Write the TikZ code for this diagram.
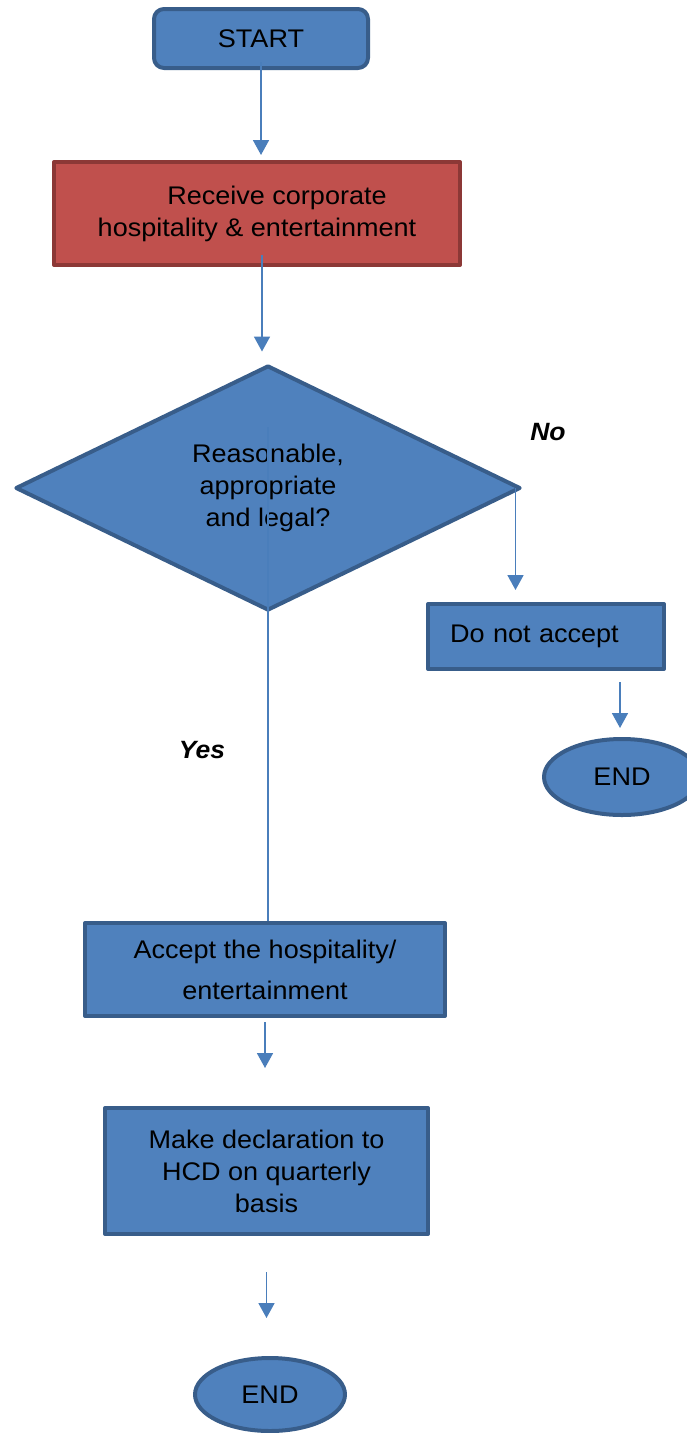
\documentclass[tikz,border=0pt]{standalone}
\usepackage{fontspec}
\setmainfont{Liberation Sans}[FakeStretch=1.06]
\usetikzlibrary{shapes.geometric,arrows.meta}
\definecolor{boxfill}{HTML}{4F81BD}
\definecolor{boxline}{HTML}{385D8A}
\definecolor{redfill}{HTML}{C0504D}
\definecolor{redline}{HTML}{8C3836}
\definecolor{arrcol}{HTML}{4A7EBB}
\tikzset{
  base/.style={draw=boxline, fill=boxfill, line width=4pt, inner sep=0pt, text=black,
    font=\fontsize{25.5}{32}\selectfont, align=center, line join=round},
  procbox/.style={base, rectangle},
  startbox/.style={base, rectangle, rounded corners=10pt},
  redbox/.style={base, rectangle, draw=redline, fill=redfill},
  decision/.style={base, diamond, aspect=2},
  endnode/.style={base, ellipse},
  arr/.style={draw=arrcol, line width=1.8pt, -{Triangle[width=16pt,length=15pt]}},
  conn/.style={draw=arrcol, line width=1.8pt},
  lbl/.style={font=\fontsize{25}{28}\selectfont\bfseries\itshape, inner sep=0pt}
}
\begin{document}
\begin{tikzpicture}[x=1pt,y=-1pt]
\useasboundingbox (0,0) rectangle (686,1433);
\node[startbox, minimum width=214pt, minimum height=59pt] (start) at (261,38.5) {START};
\node[redbox, minimum width=406pt, minimum height=103pt] (recv) at (257,213.5)
  {\hspace*{40pt}Receive corporate\\hospitality \& entertainment};
\node[decision, minimum width=505pt, minimum height=245pt] (dec) at (268,488)
  {Reasonable,\\appropriate\\and legal?};
\node[procbox, minimum width=236pt, minimum height=65pt, text width=192pt, align=left, inner xsep=22pt] (dna) at (546,636.5) {Do not accept};
\node[endnode, minimum width=156pt, minimum height=76pt] (end1) at (622,777) {END};
\node[procbox, minimum width=360pt, minimum height=93pt] (acc) at (265,969.5)
  {Accept the hospitality/\\[9pt]entertainment};
\node[procbox, minimum width=323pt, minimum height=126pt] (make) at (266.5,1171)
  {Make declaration to\\HCD on quarterly\\basis};
\node[endnode, minimum width=150pt, minimum height=73pt] (end2) at (270,1394.5) {END};

\node[lbl] (no) at (548,432) {No};
\node[lbl] (yes) at (202,750) {Yes};

\draw[arr, shorten <=-8pt, shorten >=5pt] (start.south) -- (start.south |- recv.north);
\draw[arr, shorten <=-12pt, shorten >=12pt] ([xshift=5pt]recv.south) -- ([xshift=5pt]recv.south |- dec.north);
\draw[arr, shorten >=12pt] ([xshift=-7pt]dec.east) -- ([xshift=-7pt]dec.east |- dna.north);
\draw[arr, shorten <=11pt, shorten >=9pt] ([xshift=-2pt]dna.south -| end1.north) -- ([xshift=-2pt]end1.north);
\draw[conn] ([yshift=61pt]dec.center) -- (dec.center |- acc.north);
\draw[arr, shorten <=4pt, shorten >=38pt] (acc.south) -- (acc.south |- make.north);
\draw[arr, shorten <=36pt, shorten >=38pt] (make.south) -- (make.south |- end2.north);
\end{tikzpicture}
\end{document}
